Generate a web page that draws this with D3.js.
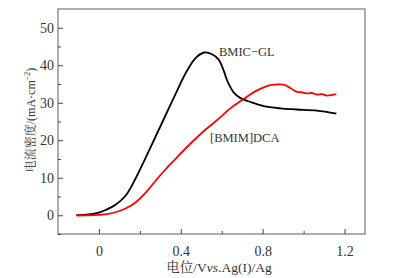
<!DOCTYPE html>
<html><head><meta charset="utf-8">
<script src="https://cdn.jsdelivr.net/npm/d3@7"></script>
<style>body{margin:0;background:#fff}svg{display:block}</style>
</head><body>
<script>
const blackX = [-0.11,-0.05,0,0.033,0.081,0.13,0.179,0.228,0.277,0.325,0.374,0.423,0.472,0.515,0.55,0.585,0.61,0.626,0.642,0.659,0.69,0.74,0.805,0.886,0.968,1.065,1.16];
const blackY = [0,0.2,0.7,1.4,2.8,5.2,9.8,15.3,21.0,26.6,32.3,37.8,41.9,43.4,43.0,41.5,38.5,36.0,34.2,32.7,31.3,30.2,29.1,28.5,28.2,27.9,27.1];
const redX = [-0.11,-0.05,0,0.04,0.081,0.13,0.179,0.228,0.277,0.325,0.374,0.423,0.472,0.52,0.569,0.605,0.642,0.707,0.773,0.838,0.886,0.91,0.93,0.95,0.968,0.99,1.017,1.04,1.065,1.09,1.114,1.14,1.16];
const redY = [0,0,0.1,0.3,0.8,1.8,3.4,6.0,9.2,12.2,15.0,17.8,20.4,22.8,25.0,26.7,28.5,31.0,33.3,34.7,34.9,34.7,34.1,33.4,32.9,32.8,32.5,32.6,32.2,32.3,31.9,32.1,32.3];
const xTicks = [0,0.4,0.8,1.2];
const xMinor = [0.2,0.6,1.0];
const yTicks = [0,10,20,30,40,50];
const yMinor = [-5,5,15,25,35,45];

const W=393,H=278;
const m={l:58,r:28,t:9,b:44};
const svg=d3.select("body").append("svg").attr("width",W).attr("height",H);
const x=d3.scaleLinear().domain([-0.2,1.3]).range([m.l,W-m.r]);
const y=d3.scaleLinear().domain([-5,55]).range([H-m.b,m.t]);
const font="'Liberation Serif','Times New Roman','Noto Serif CJK SC',serif";
const tc="#333";

svg.append("rect").attr("x",m.l).attr("y",m.t).attr("width",W-m.r-m.l).attr("height",H-m.b-m.t)
  .attr("fill","none").attr("stroke","#777").attr("stroke-width",1.2);

// x axis
const xa=svg.append("g").attr("transform",`translate(0,${H-m.b})`)
  .call(d3.axisBottom(x).tickValues(xTicks).tickSize(-5).tickPadding(12).tickFormat(d=>d===0?"0":d3.format(".1f")(d)));
xa.select(".domain").remove();
xa.selectAll("line").attr("stroke","#444");
xa.selectAll("text").attr("font-family",font).attr("font-size",14).attr("fill",tc);
svg.append("g").attr("transform",`translate(0,${H-m.b})`)
  .call(d3.axisBottom(x).tickValues(xMinor).tickSize(-3).tickFormat(""))
  .call(g=>{g.select(".domain").remove();g.selectAll("line").attr("stroke","#444");});

// y axis
const ya=svg.append("g").attr("transform",`translate(${m.l},0)`)
  .call(d3.axisLeft(y).tickValues(yTicks).tickSize(-5).tickPadding(4));
ya.select(".domain").remove();
ya.selectAll("line").attr("stroke","#444");
ya.selectAll("text").attr("font-family",font).attr("font-size",14).attr("fill",tc);
svg.append("g").attr("transform",`translate(${m.l},0)`)
  .call(d3.axisLeft(y).tickValues(yMinor).tickSize(-3).tickFormat(""))
  .call(g=>{g.select(".domain").remove();g.selectAll("line").attr("stroke","#444");});

const line=d3.line().curve(d3.curveCatmullRom.alpha(0.5));
svg.append("path").attr("d",line(blackX.map((v,i)=>[x(v),y(blackY[i])])))
  .attr("fill","none").attr("stroke","#000").attr("stroke-width",1.8);
svg.append("path").attr("d",line(redX.map((v,i)=>[x(v),y(redY[i])])))
  .attr("fill","none").attr("stroke","#f00").attr("stroke-width",1.8);

svg.append("text").attr("x",219).attr("y",56).attr("font-family",font).attr("font-size",12.5).attr("fill",tc).text("BMIC\u2212GL");
svg.append("text").attr("x",210).attr("y",142).attr("font-family",font).attr("font-size",12.5).attr("fill",tc).text("[BMIM]DCA");

// axis titles
const xt=svg.append("text").attr("x",219).attr("y",272).attr("text-anchor","middle")
  .attr("font-family",font).attr("font-size",13.5).attr("fill",tc);
xt.append("tspan").text("电位/V");
xt.append("tspan").attr("font-style","italic").text("vs");
xt.append("tspan").text(".Ag(I)/Ag");

const yt=svg.append("text").attr("transform","translate(35,120) rotate(-90)").attr("text-anchor","middle")
  .attr("font-family",font).attr("font-size",12).attr("fill",tc);
yt.append("tspan").text("电流密度/(mA·cm");
yt.append("tspan").attr("dy",-5).attr("font-size",8).text("\u22122");
yt.append("tspan").attr("dy",5).text(")");
</script>
</body></html>
